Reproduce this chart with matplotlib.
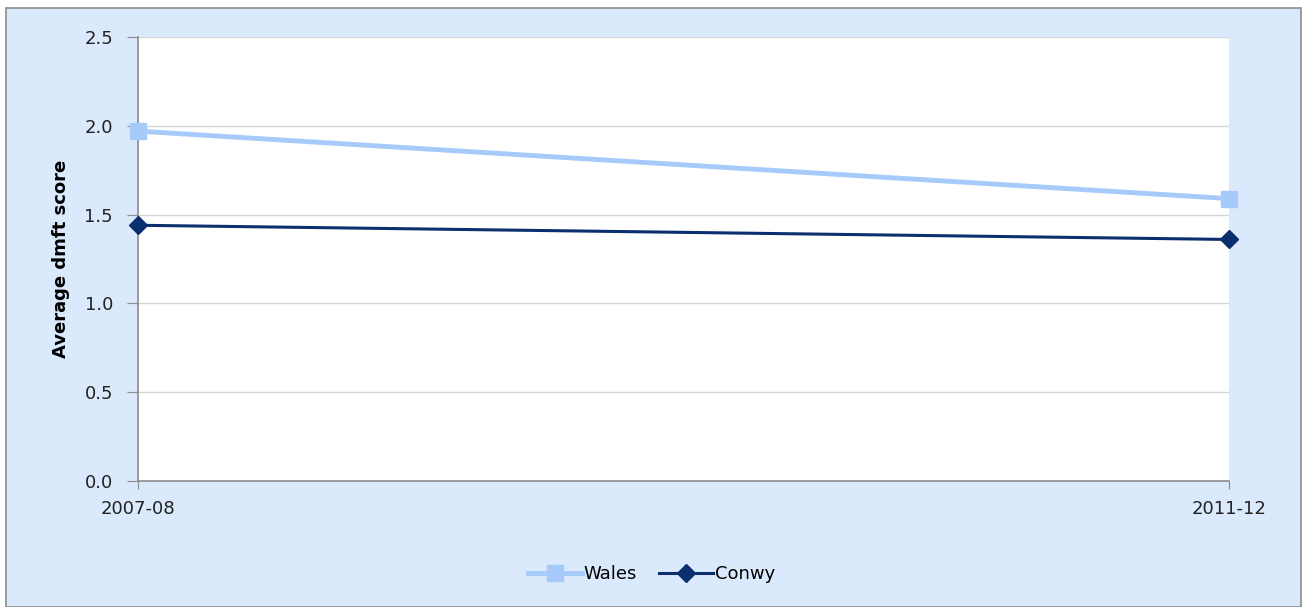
import matplotlib.pyplot as plt
from matplotlib.patches import Rectangle

# data
years = ["2007-08", "2011-12"]
wales = [1.97, 1.59]
conwy = [1.44, 1.36]

bg = "#dbe9fc"

fig = plt.figure(figsize=(13.03, 6.07), dpi=100)
fig.patch.set_facecolor("white")
# outer chart area with gray border, kept behind the axes
fig.patches.append(Rectangle((6 / 1303, 0), 1 - 8 / 1303, 1 - 8 / 607,
                             transform=fig.transFigure, facecolor=bg,
                             edgecolor="#8c8c8c", linewidth=1.2, zorder=-5))

ax = fig.add_axes([138 / 1303, 1 - 481 / 607, (1229 - 138) / 1303, (481 - 37) / 607])
ax.set_facecolor("white")

x = list(range(len(years)))
ax.plot(x, wales, color="#a6cbfb", linewidth=3.5, marker="s", markersize=11,
        label="Wales", clip_on=False, zorder=3)
ax.plot(x, conwy, color="#0b2f6e", linewidth=2.2, marker="D", markersize=9,
        label="Conwy", clip_on=False, zorder=4)

ax.set_xlim(0, 1)
ax.set_ylim(0, 2.5)
ax.set_yticks([0, 0.5, 1.0, 1.5, 2.0, 2.5])
ax.set_yticklabels(["0.0", "0.5", "1.0", "1.5", "2.0", "2.5"])
ax.set_xticks(x)
ax.set_xticklabels(years)
ax.grid(axis="y", color="#d4d4d4", linewidth=1)
ax.set_axisbelow(True)

for s in ["top", "right"]:
    ax.spines[s].set_visible(False)
for s in ["left", "bottom"]:
    ax.spines[s].set_color("#8c8c8c")
    ax.spines[s].set_linewidth(1.2)

ax.tick_params(axis="y", length=8, color="#8c8c8c", labelsize=13, pad=10, labelcolor="#222222")
ax.tick_params(axis="x", length=6, color="#8c8c8c", labelsize=13, pad=8, labelcolor="#222222")

ax.set_ylabel("Average dmft score", fontsize=13, fontweight="bold", labelpad=10)

fig.legend(loc="center", bbox_to_anchor=(0.5, 1 - 574 / 607), ncol=2, frameon=False,
           fontsize=13, handlelength=3, columnspacing=1.2, handletextpad=0.1)

fig.savefig("out.png", dpi=100, facecolor=fig.get_facecolor())
